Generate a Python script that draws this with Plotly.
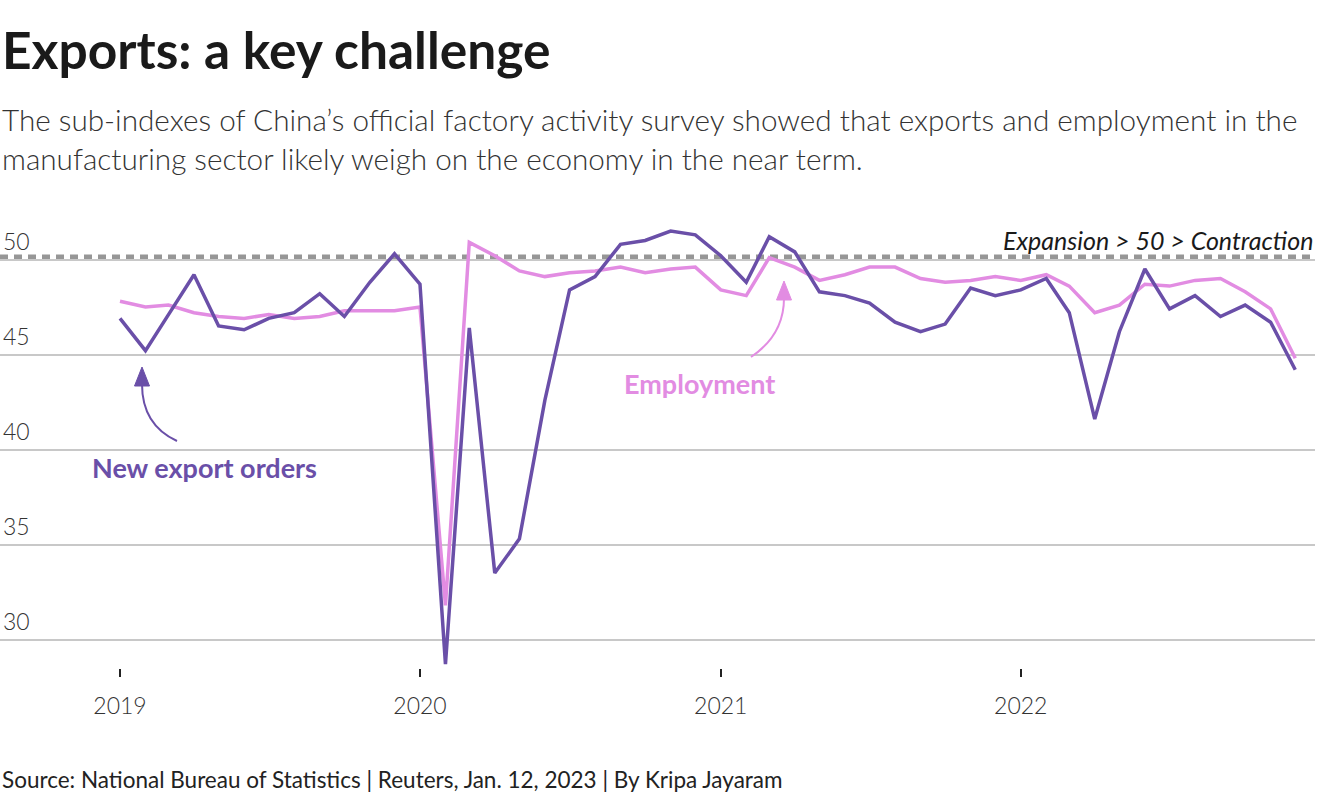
import plotly.graph_objects as go

# monthly sub-indexes of China's official manufacturing PMI, Jan 2019 - Dec 2022
months = [f"{y}-{m:02d}-01" for y in (2019, 2020, 2021, 2022) for m in range(1, 13)]

new_export_orders = [
    46.9, 45.2, 47.1, 49.2, 46.5, 46.3, 46.9, 47.2, 48.2, 47.0, 48.8, 50.3,
    48.7, 28.7, 46.4, 33.5, 35.3, 42.6, 48.4, 49.1, 50.8, 51.0, 51.5, 51.3,
    50.2, 48.8, 51.2, 50.4, 48.3, 48.1, 47.7, 46.7, 46.2, 46.6, 48.5, 48.1,
    48.4, 49.0, 47.2, 41.6, 46.2, 49.5, 47.4, 48.1, 47.0, 47.6, 46.7, 44.2,
]
employment = [
    47.8, 47.5, 47.6, 47.2, 47.0, 46.9, 47.1, 46.9, 47.0, 47.3, 47.3, 47.3,
    47.5, 31.8, 50.9, 50.2, 49.4, 49.1, 49.3, 49.4, 49.6, 49.3, 49.5, 49.6,
    48.4, 48.1, 50.1, 49.6, 48.9, 49.2, 49.6, 49.6, 49.0, 48.8, 48.9, 49.1,
    48.9, 49.2, 48.6, 47.2, 47.6, 48.7, 48.6, 48.9, 49.0, 48.3, 47.4, 44.8,
]

year_ticks = ["2019-01-01", "2020-01-01", "2021-01-01", "2022-01-01"]
year_labels = ["2019", "2020", "2021", "2022"]
y_ticks = [30, 35, 40, 45, 50]

PURPLE = "#6a4fa8"
PINK = "#e28ce2"
FONT = "Source Sans Pro, Lato, sans-serif"

# plot area geometry (px) used to place the decorations in paper coords
W, H = 1320, 800
M_L, M_R, M_T, M_B = 0, 5, 212, 132
PW = W - M_L - M_R
PH = H - M_T - M_B


def px(x):
    return (x - M_L) / PW


def py(y):
    return (H - M_B - y) / PH


fig = go.Figure()

fig.add_trace(go.Scatter(
    x=months, y=employment, mode="lines", name="Employment",
    line=dict(color=PINK, width=3.5), hoverinfo="x+y",
))
fig.add_trace(go.Scatter(
    x=months, y=new_export_orders, mode="lines", name="New export orders",
    line=dict(color=PURPLE, width=3.5), hoverinfo="x+y",
))

# expansion / contraction threshold, sitting just on top of the 50 gridline
fig.add_shape(type="line", xref="paper", x0=0, x1=1,
              yref="y", ysizemode="pixel", yanchor=50, y0=2.5, y1=2.5,
              line=dict(color="#969696", width=5, dash="8px,6px"), layer="between")

# curved pointer arrows
arrows = [
    # (start, control, end-of-shaft, colour)
    ((177, 441), (142, 425), (142, 384), PURPLE),
    ((751, 357), (784, 335), (784, 298), PINK),
]
for (x0, y0), (cx, cy), (x1, y1), col in arrows:
    fig.add_shape(type="path", xref="paper", yref="paper",
                  path=f"M {px(x0)},{py(y0)} Q {px(cx)},{py(cy)} {px(x1)},{py(y1)}",
                  line=dict(color=col, width=2))
    fig.add_shape(type="path", xref="paper", yref="paper",
                  path=(f"M {px(x1 - 7.5)},{py(y1 + 2)} L {px(x1)},{py(y1 - 17)} "
                        f"L {px(x1 + 7.5)},{py(y1 + 2)} Z"),
                  fillcolor=col, line=dict(color=col, width=1))

annotations = [
    dict(text="<b>Exports: a key challenge</b>", x=0, y=py(49), xanchor="left", yanchor="middle",
         font=dict(size=51.5, color="#1a1a1a", family=FONT)),
    dict(text=("The sub-indexes of China’s official factory activity survey showed that exports and employment in the"
               "<br>manufacturing sector likely weigh on the economy in the near term."),
         x=0, y=py(139), xanchor="left", yanchor="middle", align="left",
         font=dict(size=29.7, color="#333333", family=FONT, weight=300)),
    dict(text="Source: National Bureau of Statistics | Reuters, Jan. 12, 2023 | By Kripa Jayaram",
         x=0, y=py(779), xanchor="left", yanchor="middle",
         font=dict(size=22.5, color="#222222", family=FONT)),
    dict(text="<i>Expansion > 50 > Contraction</i>", x=1, xanchor="right", yref="y", y=50,
         yanchor="bottom", yshift=3, font=dict(size=25, color="#1a1a1a", family=FONT, weight=400)),
    dict(text="<b>New export orders</b>", x=px(90), y=py(467), xanchor="left", yanchor="middle",
         font=dict(size=27, color=PURPLE, family=FONT)),
    dict(text="<b>Employment</b>", x=px(622), y=py(383), xanchor="left", yanchor="middle",
         font=dict(size=27, color=PINK, family=FONT)),
]
for a in annotations:
    a.setdefault("xref", "paper")
    a.setdefault("yref", "paper")
    a["showarrow"] = False

fig.update_layout(
    width=W, height=H,
    margin=dict(l=M_L, r=M_R, t=M_T, b=M_B, pad=0),
    paper_bgcolor="white", plot_bgcolor="white",
    showlegend=False,
    font=dict(family=FONT, color="#333333"),
    annotations=annotations,
    xaxis=dict(
        type="date", range=["2018-08-08", "2022-12-25"],
        tickvals=year_ticks, ticktext=year_labels,
        ticks="outside", ticklen=8, tickwidth=1.5, tickcolor="#222222",
        ticklabelstandoff=9,
        tickfont=dict(size=23, color="#333333", weight=300),
        showgrid=False, showline=False, zeroline=False,
    ),
    yaxis=dict(
        range=[28.5, 52.5], tickvals=y_ticks,
        showgrid=True, gridcolor="#c8c8c8", gridwidth=1.5,
        ticks="", showline=False, zeroline=False,
        ticklabelposition="inside", ticklabelshift=-18, ticklabelstandoff=0,
        tickfont=dict(size=23, color="#333333", weight=300),
    ),
)

# drop the browser's default page margin so the figure sits flush at 0,0
fig.write_html("out.html", config={"displayModeBar": False},
               post_script="document.body.style.margin='0';")
